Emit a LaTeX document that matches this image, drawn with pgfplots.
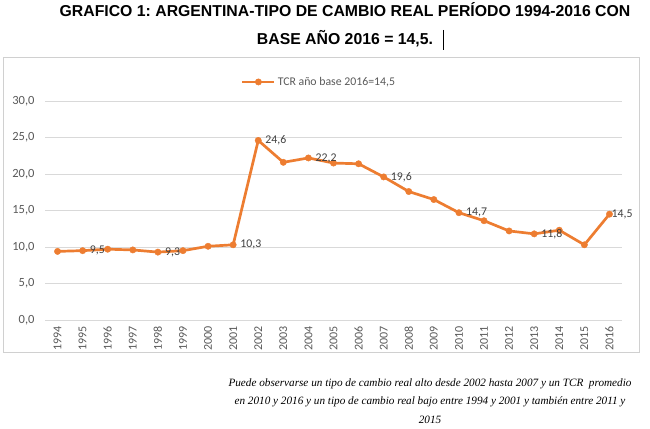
\documentclass[border=0pt]{standalone}
\usepackage{pgfplots}
\pgfplotsset{compat=1.18}
\usepackage{pgfplotstable}
\usepackage{fontspec}
\setmainfont{Carlito}
\newfontfamily\titlefont{Liberation Sans}
\newfontfamily\capfont{Liberation Serif}
\definecolor{tcr}{HTML}{ED7D31}
\definecolor{gridc}{HTML}{D9D9D9}
\definecolor{tickc}{HTML}{595959}
\definecolor{labc}{HTML}{404040}
\definecolor{borderc}{HTML}{D0D0D0}

\pgfplotstableread{
x y
0 9.4
1 9.5
2 9.7
3 9.6
4 9.3
5 9.5
6 10.1
7 10.3
8 24.6
9 21.6
10 22.2
11 21.5
12 21.4
13 19.6
14 17.6
15 16.5
16 14.7
17 13.6
18 12.2
19 11.8
20 12.3
21 10.3
22 14.5
}\tcrdata

\pgfplotstableread{
x y lab
1 9.5 {9,5}
4 9.3 {9,3}
7 10.3 {10,3}
8 24.6 {24,6}
10 22.2 {22,2}
13 19.6 {19,6}
16 14.7 {14,7}
19 11.8 {11,8}
}\labdata

\pgfplotstableread{
x y lab
22 14.5 {14,5}
}\labdatab

\begin{document}
\frenchspacing
\begin{tikzpicture}
\path[use as bounding box] (0,0) rectangle (650pt,-428pt);
% title
\node[font=\titlefont\bfseries\fontsize{15.8}{18}\selectfont, anchor=base] at (345pt,-17pt) {GRAFICO 1: ARGENTINA-TIPO DE CAMBIO REAL PERÍODO 1994-2016 CON};
\node[font=\titlefont\bfseries\fontsize{15.8}{18}\selectfont, anchor=base] at (345pt,-45pt) {BASE AÑO 2016 = 14,5.};
\draw[black, line width=0.6pt] (443pt,-30pt) -- (443pt,-50pt);
% chart border
\draw[borderc, line width=0.8pt] (3pt,-57pt) rectangle (639pt,-352pt);
\begin{axis}[
  at={(45pt,-320pt)}, anchor=south west,
  scale only axis, width=577pt, height=219pt,
  xmin=-0.5, xmax=22.5, ymin=0, ymax=30,
  ytick={0,5,...,30},
  xtick={0,...,22},
  xticklabels={1994,1995,1996,1997,1998,1999,2000,2001,2002,2003,2004,2005,2006,2007,2008,2009,2010,2011,2012,2013,2014,2015,2016},
  axis line style={draw=none},
  major tick length=0pt,
  ymajorgrids, grid style={draw=gridc, line width=0.9pt},
  /pgf/number format/.cd, fixed, fixed zerofill, precision=1, use comma, assume math mode=true,
  /pgfplots/.cd,
  yticklabel style={font=\fontsize{12.5}{14}\selectfont, text=tickc, anchor=east, xshift=-7pt},
  xticklabel style={font=\fontsize{12}{13}\selectfont, text=tickc, rotate=90, anchor=east, xshift=-3pt},
  legend style={at={(0.475,1)}, anchor=south, yshift=11pt, draw=none, fill=none,
    font=\fontsize{11.8}{13}\selectfont, text=tickc, inner sep=1pt},
  legend cell align=left,
  legend image code/.code={\draw[mark repeat=2, mark phase=2, #1] plot coordinates {(0pt,0pt) (16pt,0pt) (32pt,0pt)};},
  clip=false,
]
\addplot[tcr, line width=2.7pt, mark=*, mark size=3.2pt, mark options={solid, fill=tcr, draw=tcr, line width=0.4pt}] table[x=x,y=y] {\tcrdata};
\addlegendentry{TCR año base 2016=14,5}
\addplot[draw=none, mark=none, nodes near coords, point meta=explicit symbolic,
  nodes near coords style={anchor=west, xshift=6pt, text=labc, font=\fontsize{11.8}{13}\selectfont, inner sep=1pt}, forget plot] table[x=x,y=y,meta=lab] {\labdata};
\addplot[draw=none, mark=none, nodes near coords, point meta=explicit symbolic,
  nodes near coords style={anchor=west, xshift=1pt, text=labc, font=\fontsize{11.8}{13}\selectfont, inner sep=1pt}, forget plot] table[x=x,y=y,meta=lab] {\labdatab};
\end{axis}
% caption
\node[font=\capfont\itshape\fontsize{11.2}{18.5}\selectfont, align=center, anchor=north] at (430pt,-375pt) {Puede observarse un tipo de cambio real alto desde 2002 hasta 2007 y un TCR\ \ promedio\\ en 2010 y 2016 y un tipo de cambio real bajo entre 1994 y 2001 y también entre 2011 y\\ 2015};
\end{tikzpicture}
\end{document}
